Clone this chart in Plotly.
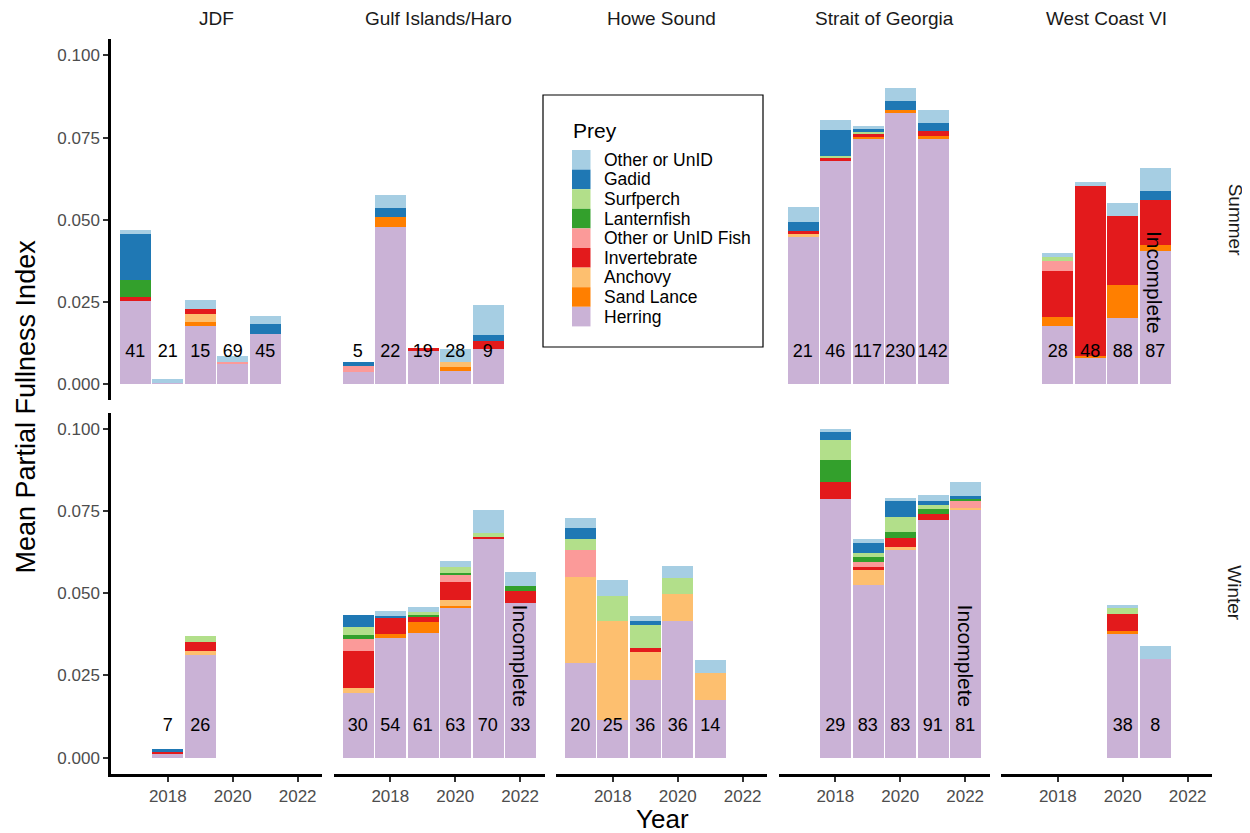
import plotly.graph_objects as go

# ---------------- data ----------------
REGIONS = ["JDF", "Gulf Islands/Haro", "Howe Sound", "Strait of Georgia", "West Coast VI"]
SEASONS = ["Summer", "Winter"]
# stacking order, bottom -> top
PREY = ["Herring", "Sand Lance", "Anchovy", "Invertebrate", "Other or UnID Fish",
        "Lanternfish", "Surfperch", "Gadid", "Other or UnID"]
PREY_COLORS = ["#CAB2D6", "#FF7F00", "#FDBF6F", "#E31A1C", "#FB9A99",
               "#33A02C", "#B2DF8A", "#1F78B4", "#A6CEE3"]

bar_region = (["JDF"] * 5 + ["Gulf Islands/Haro"] * 5 + ["Strait of Georgia"] * 5 + ["West Coast VI"] * 4
              + ["JDF"] * 2 + ["Gulf Islands/Haro"] * 6 + ["Howe Sound"] * 5 + ["Strait of Georgia"] * 5
              + ["West Coast VI"] * 2)
bar_season = ["Summer"] * 19 + ["Winter"] * 20
bar_year = [2017, 2018, 2019, 2020, 2021,
            2017, 2018, 2019, 2020, 2021,
            2017, 2018, 2019, 2020, 2021,
            2018, 2019, 2020, 2021,
            2018, 2019,
            2017, 2018, 2019, 2020, 2021, 2022,
            2017, 2018, 2019, 2020, 2021,
            2018, 2019, 2020, 2021, 2022,
            2020, 2021]
bar_n = [41, 21, 15, 69, 45,
         5, 22, 19, 28, 9,
         21, 46, 117, 230, 142,
         28, 48, 88, 87,
         7, 26,
         30, 54, 61, 63, 70, 33,
         20, 25, 36, 36, 14,
         29, 83, 83, 91, 81,
         38, 8]

herring = [0.0254, 0.0004, 0.0177, 0.0060, 0.0152,
           0.0037, 0.0478, 0.0101, 0.0041, 0.0107,
           0.0447, 0.0679, 0.0748, 0.0826, 0.0745,
           0.0177, 0.0078, 0.0200, 0.0405,
           0.0013, 0.0312,
           0.0197, 0.0366, 0.0380, 0.0457, 0.0668, 0.0471,
           0.0288, 0.0116, 0.0236, 0.0416, 0.0177,
           0.0789, 0.0528, 0.0633, 0.0725, 0.0756,
           0.0377, 0.0300]
sand_lance = [0, 0, 0.0011, 0, 0,
              0, 0.0030, 0, 0.0011, 0,
              0, 0, 0.0005, 0.0008, 0.0011,
              0.0026, 0.0007, 0.0101, 0.0017,
              0, 0,
              0, 0.0012, 0.0033, 0.0007, 0, 0,
              0, 0, 0, 0, 0,
              0, 0, 0, 0, 0,
              0.0011, 0]
anchovy = [0, 0, 0.0024, 0, 0,
           0, 0, 0, 0.0016, 0,
           0.0010, 0, 0, 0, 0,
           0, 0, 0, 0,
           0, 0.0013,
           0.0015, 0, 0, 0.0016, 0, 0,
           0.0263, 0.0301, 0.0087, 0.0083, 0.0081,
           0, 0.0044, 0.0008, 0, 0.0005,
           0, 0]
invertebrate = [0.0011, 0, 0.0016, 0, 0,
                0, 0, 0.0008, 0, 0.0024,
                0.0010, 0.0008, 0.0010, 0, 0.0014,
                0.0141, 0.0519, 0.0211, 0.0137,
                0.0004, 0.0028,
                0.0115, 0.0051, 0.0019, 0.0055, 0.0004, 0.0036,
                0, 0, 0.0012, 0, 0,
                0.0052, 0.0008, 0.0028, 0.0019, 0,
                0.0049, 0]
other_fish = [0, 0, 0, 0.0007, 0,
              0.0018, 0, 0, 0, 0,
              0, 0, 0, 0, 0,
              0.0030, 0, 0, 0,
              0, 0,
              0.0035, 0, 0, 0.0021, 0, 0,
              0.0083, 0, 0, 0, 0,
              0, 0.0016, 0, 0, 0.0020,
              0, 0]
lanternfish = [0.0052, 0, 0, 0, 0,
               0, 0, 0, 0, 0,
               0, 0, 0, 0, 0,
               0, 0, 0, 0,
               0, 0,
               0.0012, 0, 0.0005, 0.0008, 0, 0.0016,
               0, 0, 0, 0, 0,
               0.0067, 0.0015, 0.0018, 0.0015, 0.0008,
               0, 0]
surfperch = [0, 0, 0, 0, 0,
             0, 0, 0, 0, 0,
             0, 0.0007, 0.0004, 0, 0,
             0.0014, 0, 0, 0,
             0, 0.0019,
             0.0026, 0, 0.0006, 0.0018, 0.0012, 0,
             0.0031, 0.0076, 0.0071, 0.0050, 0,
             0.0059, 0.0012, 0.0046, 0.0010, 0,
             0.0020, 0]
gadid = [0.0138, 0, 0, 0, 0.0031,
         0.0011, 0.0028, 0, 0, 0.0017,
         0.0025, 0.0079, 0.0009, 0.0027, 0.0025,
         0, 0, 0, 0.0029,
         0.0011, 0,
         0.0036, 0.0004, 0, 0, 0, 0,
         0.0034, 0, 0.0011, 0, 0,
         0.0024, 0.0031, 0.0049, 0.0012, 0.0008,
         0, 0]
other_unid = [0.0014, 0.0010, 0.0028, 0.0017, 0.0023,
              0, 0.0038, 0, 0.0039, 0.0093,
              0.0048, 0.0030, 0.0010, 0.0039, 0.0040,
              0.0010, 0.0011, 0.0040, 0.0070,
              0, 0,
              0, 0.0014, 0.0016, 0.0019, 0.0072, 0.0042,
              0.0031, 0.0050, 0.0016, 0.0036, 0.0041,
              0.0009, 0.0011, 0.0008, 0.0020, 0.0042,
              0.0009, 0.0041]
PREY_VALUES = [herring, sand_lance, anchovy, invertebrate, other_fish,
               lanternfish, surfperch, gadid, other_unid]

# bars flagged as incomplete sampling
incomplete_region = ["Gulf Islands/Haro", "Strait of Georgia", "West Coast VI"]
incomplete_season = ["Winter", "Winter", "Summer"]
incomplete_year = [2022, 2022, 2021]

Y_TICKS = [0.0, 0.025, 0.05, 0.075, 0.1]
Y_TICK_TEXT = ["0.000", "0.025", "0.050", "0.075", "0.100"]
X_TICKS = [2018, 2020, 2022]
N_LABEL_Y = 0.0095
INCOMPLETE_Y = 0.031

# ---------------- layout geometry ----------------
# the page body adds an 8px offset, so the figure is 8px smaller on each axis
PAGE_OFF = 8
W, H = 1250 - PAGE_OFF, 833 - PAGE_OFF
PLOT_L, PLOT_T, PLOT_R, PLOT_B = 111, 39, 1212, 774     # page pixels of the plotting area
ML, MT = PLOT_L - PAGE_OFF, PLOT_T - PAGE_OFF
MR, MB = 1250 - PLOT_R, 833 - PLOT_B
PW = PLOT_R - PLOT_L
PH = PLOT_B - PLOT_T
COL_W, COL_GAP = 211, 11.5
col_domains = [[(i * (COL_W + COL_GAP)) / PW, (i * (COL_W + COL_GAP) + COL_W) / PW] for i in range(5)]
row_domains = [[0.5083, 1.0], [0.0, 0.4917]]


def px2x(px):
    return (px - PLOT_L) / PW


def py2y(py):
    return 1 - (py - PLOT_T) / PH


FONT = "Liberation Sans, Arial, sans-serif"
fig = go.Figure()
layout = dict(
    width=W, height=H,
    margin=dict(l=ML, r=MR, t=MT, b=MB, autoexpand=False),
    paper_bgcolor="white", plot_bgcolor="white",
    barmode="stack", bargap=0,
    font=dict(family=FONT, color="black"),
    showlegend=False,
)

annotations = []
shapes = []
for r, season in enumerate(SEASONS):
    for c, region in enumerate(REGIONS):
        k = r * 5 + c + 1
        xa = "x" if k == 1 else f"x{k}"
        ya = "y" if k == 1 else f"y{k}"
        idx = [i for i in range(len(bar_year)) if bar_region[i] == region and bar_season[i] == season]
        years = [bar_year[i] for i in idx]
        for p, name in enumerate(PREY):
            vals = [PREY_VALUES[p][i] for i in idx]
            fig.add_trace(go.Bar(
                x=years, y=vals, name=name, width=0.96,
                marker=dict(color=PREY_COLORS[p], line=dict(width=0)),
                xaxis=xa, yaxis=ya, showlegend=False,
            ))
        if idx:
            fig.add_trace(go.Scatter(
                x=years, y=[N_LABEL_Y] * len(idx), mode="text",
                text=[str(bar_n[i]) for i in idx],
                textfont=dict(size=18, color="black", family=FONT),
                showlegend=False, xaxis=xa, yaxis=ya, hoverinfo="skip",
            ))
        for j in range(len(incomplete_year)):
            if incomplete_region[j] == region and incomplete_season[j] == season:
                annotations.append(dict(
                    x=incomplete_year[j], y=INCOMPLETE_Y, xref=xa, yref=ya,
                    xanchor="center", yanchor="middle",
                    text="Incomplete", showarrow=False, textangle=90,
                    font=dict(size=21, color="black", family=FONT),
                ))
        bottom = (r == 1)
        left = (c == 0)
        layout["xaxis" if k == 1 else f"xaxis{k}"] = dict(
            domain=col_domains[c], anchor=ya, range=[2016.25, 2022.75],
            tickvals=X_TICKS if bottom else [], showticklabels=bottom,
            ticks="outside" if bottom else "", ticklen=5, tickwidth=2, tickcolor="#333333",
            showline=bottom, linecolor="black", linewidth=2.5,
            showgrid=False, zeroline=False, automargin=False, fixedrange=True,
            tickfont=dict(size=17, color="#4D4D4D", family=FONT),
        )
        layout["yaxis" if k == 1 else f"yaxis{k}"] = dict(
            domain=row_domains[r], anchor=xa, range=[-0.005, 0.105],
            tickvals=Y_TICKS if left else [], ticktext=Y_TICK_TEXT if left else None,
            showticklabels=left, ticklabelstandoff=0,
            ticks="outside" if left else "", ticklen=5, tickwidth=2, tickcolor="#333333",
            showline=left, linecolor="black", linewidth=2.5,
            showgrid=False, zeroline=False, automargin=False, fixedrange=True,
            tickfont=dict(size=17, color="#4D4D4D", family=FONT),
        )

# strip labels
for c, region in enumerate(REGIONS):
    annotations.append(dict(
        x=(col_domains[c][0] + col_domains[c][1]) / 2, y=py2y(18),
        xref="paper", yref="paper", text=region, showarrow=False,
        xanchor="center", yanchor="middle",
        font=dict(size=19, color="#1A1A1A", family=FONT),
    ))
for r, season in enumerate(SEASONS):
    annotations.append(dict(
        x=px2x(1235), y=(row_domains[r][0] + row_domains[r][1]) / 2,
        xref="paper", yref="paper", text=season, showarrow=False, textangle=90,
        xanchor="center", yanchor="middle",
        font=dict(size=19, color="#1A1A1A", family=FONT),
    ))
# axis titles
annotations.append(dict(
    x=px2x(25), y=0.5, xref="paper", yref="paper", text="Mean Partial Fullness Index",
    xanchor="center", yanchor="middle",
    showarrow=False, textangle=-90, font=dict(size=27, color="black", family=FONT),
))
annotations.append(dict(
    x=px2x(662), y=py2y(819), xref="paper", yref="paper", text="Year",
    xanchor="center", yanchor="middle",
    showarrow=False, font=dict(size=26, color="black", family=FONT),
))

# legend box (drawn from the prey/colour lists)
LEG_L, LEG_R, LEG_T, LEG_B = 543, 763, 95, 347
shapes.append(dict(type="rect", xref="paper", yref="paper",
                   x0=px2x(LEG_L), x1=px2x(LEG_R), y0=py2y(LEG_B), y1=py2y(LEG_T),
                   line=dict(color="black", width=1.2), fillcolor="white", layer="above"))
annotations.append(dict(
    x=px2x(571), y=py2y(130), xref="paper", yref="paper", text="Prey",
    xanchor="left", yanchor="middle", showarrow=False,
    font=dict(size=21, color="black", family=FONT),
))
ROW_H = 19.6
for j, p in enumerate(reversed(range(len(PREY)))):
    top = 150 + j * ROW_H
    shapes.append(dict(type="rect", xref="paper", yref="paper",
                       x0=px2x(572), x1=px2x(590.5), y0=py2y(top + ROW_H), y1=py2y(top),
                       line=dict(width=0), fillcolor=PREY_COLORS[p], layer="above"))
    annotations.append(dict(
        x=px2x(602), y=py2y(top + ROW_H / 2), xref="paper", yref="paper", text=PREY[p],
        xanchor="left", yanchor="middle", showarrow=False,
        font=dict(size=17.5, color="black", family=FONT),
    ))

layout["annotations"] = annotations
layout["shapes"] = shapes
fig.update_layout(**layout)
fig.write_html("out.html")
